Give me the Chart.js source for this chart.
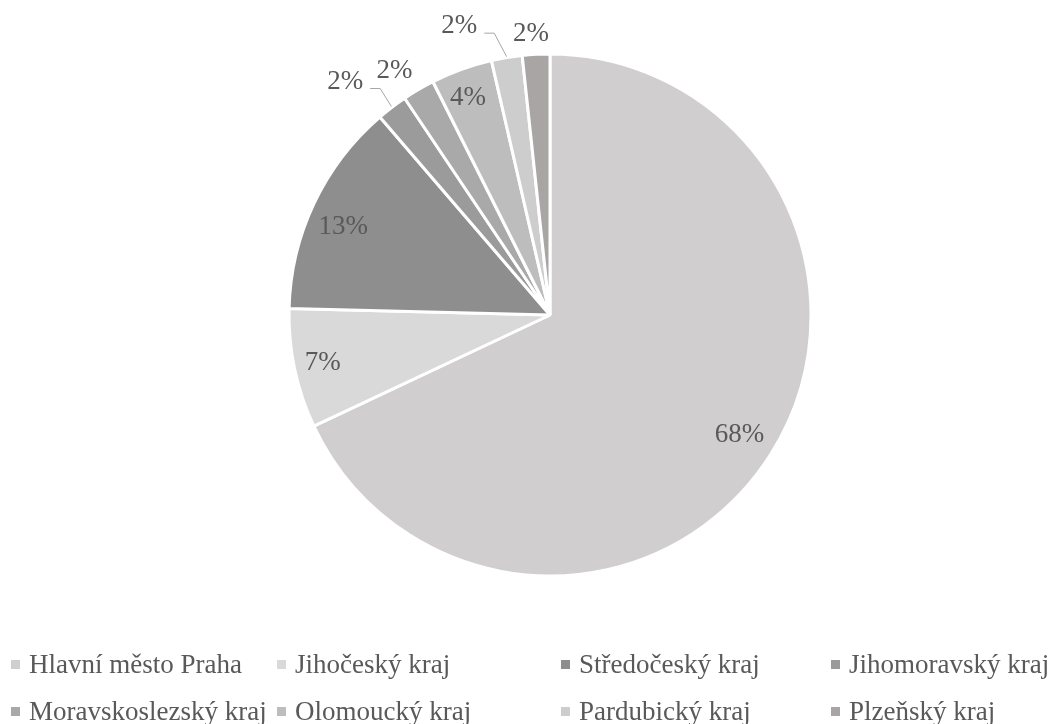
<!DOCTYPE html>
<html>
<head>
<meta charset="utf-8">
<script src="https://cdn.jsdelivr.net/npm/chart.js@4"></script>
<style>
  html, body { margin: 0; padding: 0; background: #fff; }
  canvas { display: block; }
</style>
</head>
<body>
<canvas id="c" width="1064" height="724"></canvas>
<script>
// Regions and their share (%)
const regions = [
  'Hlavní město Praha', 'Jihočeský kraj', 'Středočeský kraj', 'Jihomoravský kraj',
  'Moravskoslezský kraj', 'Olomoucký kraj', 'Pardubický kraj', 'Plzeňský kraj'
];
const shares = [68.0, 7.4, 13.3, 1.9, 2.0, 3.8, 1.9, 1.7];
const sliceColors = [
  '#d0cecf', '#d9d9d9', '#8e8e8e', '#9b9b9b',
  '#a9a9a9', '#bdbdbd', '#cdcdcd', '#aaa5a5'
];

// Where each percentage label sits: distance as a fraction of the radius,
// angular nudge in degrees, and whether a leader line is drawn to the slice.
const labelPlacement = [
  { r: 0.86, shift: 0 },
  { r: 0.89, shift: 0 },
  { r: 0.86, shift: -2.4 },
  { r: 1.19, shift: -4.0, leader: true },
  { r: 1.11, shift: -2.2 },
  { r: 0.89, shift: -0.9 },
  { r: 1.16, shift: -7.9, leader: true },
  { r: 1.08, shift: -0.8 }
];

const FONT = '27px "Liberation Serif", "Times New Roman", serif';
const TEXT_COLOR = '#595959';

// Legend grid: column x of the swatch, row baselines
const legendCols = [11, 277, 561, 831];
const legendRows = [673, 720];

const labelsAndLegend = {
  id: 'labelsAndLegend',
  afterDraw(chart) {
    const ctx = chart.ctx;
    const meta = chart.getDatasetMeta(0);
    ctx.save();
    ctx.font = FONT;
    ctx.fillStyle = TEXT_COLOR;

    meta.data.forEach((arc, i) => {
      const p = labelPlacement[i];
      const mid = (arc.startAngle + arc.endAngle) / 2;
      const a = mid + p.shift * Math.PI / 180;
      const R = arc.outerRadius;
      const lx = arc.x + Math.cos(a) * R * p.r;
      const ly = arc.y + Math.sin(a) * R * p.r;
      const text = Math.round(shares[i]) + '%';
      ctx.textAlign = 'center';
      ctx.textBaseline = 'middle';
      ctx.fillText(text, lx, ly);

      if (p.leader) {
        const w = ctx.measureText(text).width;
        const sx = lx + w / 2 + 7;
        const sy = ly + 7;
        const ex = arc.x + Math.cos(mid) * (R + 1);
        const ey = arc.y + Math.sin(mid) * (R + 1);
        ctx.save();
        ctx.strokeStyle = '#a6a6a6';
        ctx.lineWidth = 1;
        ctx.beginPath();
        ctx.moveTo(sx, sy);
        ctx.lineTo(sx + 10, sy);
        ctx.lineTo(ex, ey);
        ctx.stroke();
        ctx.restore();
      }
    });

    // Legend: two rows of four entries
    ctx.textAlign = 'left';
    ctx.textBaseline = 'alphabetic';
    regions.forEach((name, i) => {
      const col = i % 4;
      const row = Math.floor(i / 4);
      const x = legendCols[col];
      const base = legendRows[row];
      ctx.fillStyle = sliceColors[i];
      ctx.fillRect(x, base - 13, 9, 9);
      ctx.fillStyle = TEXT_COLOR;
      ctx.fillText(name, x + 18, base);
    });
    ctx.restore();
  }
};

new Chart(document.getElementById('c'), {
  type: 'pie',
  data: {
    labels: regions,
    datasets: [{
      data: shares,
      backgroundColor: sliceColors,
      borderColor: '#ffffff',
      borderWidth: 3
    }]
  },
  options: {
    responsive: false,
    animation: false,
    radius: 261,
    layout: { padding: { left: 200, right: 164, top: 0, bottom: 94 } },
    plugins: {
      legend: { display: false },
      tooltip: { enabled: false }
    }
  },
  plugins: [labelsAndLegend]
});
</script>
</body>
</html>
